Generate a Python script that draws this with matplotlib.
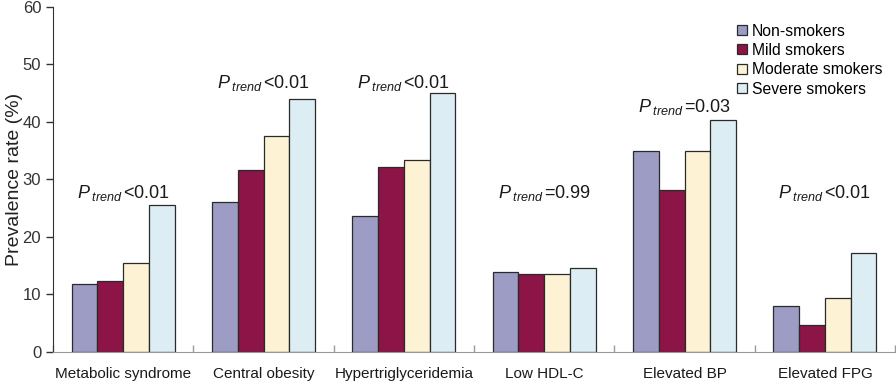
import matplotlib
matplotlib.use("Agg")
import matplotlib.pyplot as plt
import numpy as np

plt.rcParams['font.family'] = ['Liberation Sans', 'DejaVu Sans']
plt.rcParams['mathtext.fontset'] = 'custom'
plt.rcParams['mathtext.rm'] = 'Liberation Sans'
plt.rcParams['mathtext.it'] = 'Liberation Sans:italic'

# data
categories = ['Metabolic syndrome', 'Central obesity', 'Hypertriglyceridemia',
              'Low HDL-C', 'Elevated BP', 'Elevated FPG']
groups = ['Non-smokers', 'Mild smokers', 'Moderate smokers', 'Severe smokers']
non_smokers = [11.8, 26.1, 23.7, 13.9, 35.0, 8.0]
mild_smokers = [12.3, 31.6, 32.1, 13.5, 28.2, 4.6]
moderate_smokers = [15.4, 37.6, 33.4, 13.5, 35.0, 9.3]
severe_smokers = [25.6, 44.0, 45.1, 14.6, 40.4, 17.1]
p_trend = ['<0.01', '<0.01', '<0.01', '=0.99', '=0.03', '<0.01']
p_height = [27.6, 46.8, 46.8, 27.6, 42.6, 27.6]

colors = ['#9c9cc4', '#8c1446', '#fdf3d4', '#dcedf3']

fig = plt.figure(figsize=(8.96, 3.84), dpi=100)
ax = fig.add_axes([0.0592, 0.084, 0.9398, 0.898])

x = np.arange(len(categories))
w = 0.1835
series = [non_smokers, mild_smokers, moderate_smokers, severe_smokers]
for k, (vals, lab) in enumerate(zip(series, groups)):
    ax.bar(x + (k - 1.5) * w, vals, width=w, color=colors[k],
           edgecolor='#2a2a2a', linewidth=0.9, label=lab, zorder=2)

for i, (p, h) in enumerate(zip(p_trend, p_height)):
    ax.text(x[i], h, r'$P\,_{\mathit{trend}}\,$' + p, ha='center', va='center',
            fontsize=13, color='#1a1a1a')

ax.set_xlim(-0.5, len(categories) - 0.5)
ax.set_ylim(0, 60)
ax.set_yticks(range(0, 61, 10))
ax.set_xticks(x)
ax.set_xticklabels(categories, fontsize=11, color='#1a1a1a')
ax.set_xticks(np.arange(-0.5, len(categories), 1.0), minor=True)
ax.tick_params(axis='x', which='major', length=0, pad=11)
ax.tick_params(axis='x', which='minor', direction='in', length=5,
               color='#999999', width=1)
ax.tick_params(axis='y', direction='out', length=5, width=1,
               labelsize=12, colors='#333333')
ax.set_ylabel('Prevalence rate (%)', fontsize=14, color='#222222')
ax.yaxis.set_label_coords(-0.036, 0.5)

for s in ['top', 'right']:
    ax.spines[s].set_visible(False)
ax.spines['left'].set_color('#333333')
ax.spines['bottom'].set_color('#999999')

ax.legend(loc='upper left', bbox_to_anchor=(0.805, 0.97), frameon=False,
          fontsize=11.3, handlelength=0.6, handleheight=0.6,
          handletextpad=0.35, labelspacing=0.28, borderaxespad=0)

fig.savefig('out.png', dpi=100)
